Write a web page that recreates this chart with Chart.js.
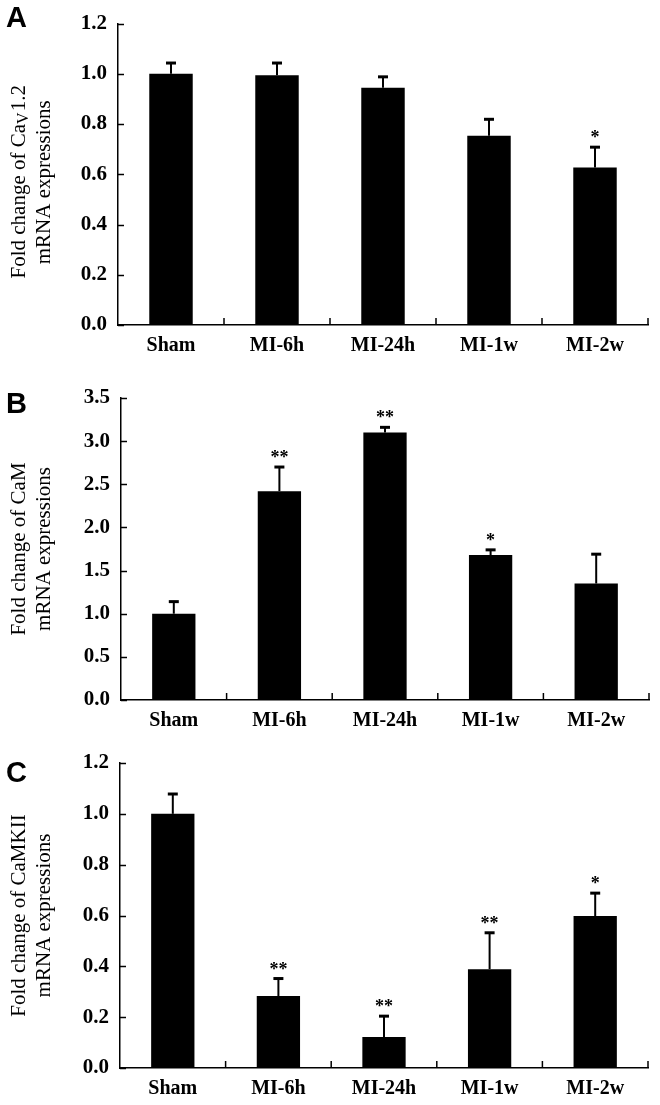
<!DOCTYPE html>
<html>
<head>
<meta charset="utf-8">
<script src="https://cdn.jsdelivr.net/npm/chart.js@4"></script>
<style>
  body { margin: 0; background: #fff; width: 660px; height: 1105px; position: relative; overflow: hidden; }
  canvas { position: absolute; left: 0; }
</style>
</head>
<body>
<canvas id="chartA" width="660" height="360" style="top:0px"></canvas>
<canvas id="chartB" width="660" height="365" style="top:365px"></canvas>
<canvas id="chartC" width="660" height="370" style="top:735px"></canvas>
<script>
// categories shared by all three panels
const categories = ['Sham', 'MI-6h', 'MI-24h', 'MI-1w', 'MI-2w'];

// A: Cav1.2
const cav12Mean = [1.00, 0.994, 0.945, 0.753, 0.627];
const cav12Err  = [0.043, 0.049, 0.043, 0.066, 0.081];
const cav12Sig  = ['', '', '', '', '*'];

// B: CaM
const camMean = [1.00, 2.42, 3.10, 1.68, 1.35];
const camErr  = [0.14, 0.28, 0.06, 0.06, 0.34];
const camSig  = ['', '**', '**', '*', ''];

// C: CaMKII
const camkiiMean = [1.00, 0.283, 0.122, 0.389, 0.598];
const camkiiErr  = [0.078, 0.069, 0.082, 0.143, 0.090];
const camkiiSig  = ['', '**', '**', '**', '*'];

// y axis ranges
const yMaxA = 1.2, yStepA = 0.2;
const yMaxB = 3.5, yStepB = 0.5;
const yMaxC = 1.2, yStepC = 0.2;

const SERIF = '"Liberation Serif", "Times New Roman", serif';

// error bars, stars, inward ticks, panel letter, y title
const panelDecor = {
    id: 'panelDecor',
    afterDatasetsDraw(chart, args, opts) {
        const ctx = chart.ctx;
        const ds = chart.data.datasets[0];
        const meta = chart.getDatasetMeta(0);
        const y = chart.scales.y;
        const area = chart.chartArea;

        ctx.save();
        ctx.strokeStyle = '#000';
        ctx.fillStyle = '#000';

        // error bars (upper only)
        meta.data.forEach((bar, i) => {
            const top = y.getPixelForValue(ds.data[i] + ds.errors[i]);
            ctx.lineWidth = 2;
            ctx.beginPath();
            ctx.moveTo(bar.x, bar.y);
            ctx.lineTo(bar.x, top);
            ctx.stroke();
            ctx.lineWidth = 3;
            ctx.beginPath();
            ctx.moveTo(bar.x - 5, top);
            ctx.lineTo(bar.x + 5, top);
            ctx.stroke();

            // significance stars
            if (ds.sig[i]) {
                ctx.font = 'bold 18px ' + SERIF;
                ctx.textAlign = 'center';
                ctx.textBaseline = 'alphabetic';
                ctx.fillText(ds.sig[i], bar.x, top - 4);
            }
        });

        // inward tick marks
        ctx.lineWidth = 1.5;
        y.ticks.forEach(t => {
            const py = Math.round(y.getPixelForValue(t.value)) + 0.5;
            ctx.beginPath();
            ctx.moveTo(area.left, py);
            ctx.lineTo(area.left + 6, py);
            ctx.stroke();
        });
        const n = categories.length;
        for (let k = 1; k <= n; k++) {
            const px = area.left + (area.right - area.left) * k / n;
            ctx.beginPath();
            ctx.moveTo(px, area.bottom);
            ctx.lineTo(px, area.bottom - 7);
            ctx.stroke();
        }

        // panel letter
        ctx.font = 'bold 29px "Liberation Sans", Arial, sans-serif';
        ctx.textAlign = 'left';
        ctx.textBaseline = 'alphabetic';
        ctx.fillText(opts.letter, 6, opts.letterY);

        // y title, two rotated lines
        const cy = (area.top + area.bottom) / 2 + (opts.titleShift || 0);
        const big = '21px ' + SERIF;
        const small = '16px ' + SERIF;
        ctx.textBaseline = 'middle';

        ctx.save();
        ctx.translate(19, cy);
        ctx.rotate(-Math.PI / 2);
        ctx.font = big;
        const w1 = ctx.measureText(opts.title1).width;
        let wSub = 0, wTail = 0;
        if (opts.sub) {
            ctx.font = small;
            wSub = ctx.measureText(opts.sub).width;
            ctx.font = big;
            wTail = ctx.measureText(opts.tail).width;
        }
        let sx = -(w1 + wSub + wTail) / 2;
        ctx.textAlign = 'left';
        ctx.fillText(opts.title1, sx, 0);
        if (opts.sub) {
            sx += w1;
            ctx.font = small;
            ctx.fillText(opts.sub, sx, 5);
            sx += wSub + 1;
            ctx.font = big;
            ctx.fillText(opts.tail, sx, 0);
        }
        ctx.restore();

        ctx.save();
        ctx.translate(44, cy);
        ctx.rotate(-Math.PI / 2);
        ctx.font = big;
        ctx.textAlign = 'center';
        ctx.fillText(opts.title2, 0, 0);
        ctx.restore();

        ctx.restore();
    }
};

function makePanel(id, cfg) {
    const canvas = document.getElementById(id);
    return new Chart(canvas, {
        type: 'bar',
        data: {
            labels: categories,
            datasets: [{
                data: cfg.mean,
                errors: cfg.err,
                sig: cfg.sig,
                backgroundColor: '#000',
                borderWidth: 0,
                barPercentage: 0.41,
                categoryPercentage: 1.0
            }]
        },
        options: {
            responsive: false,
            animation: false,
            devicePixelRatio: 1,
            layout: { padding: { top: cfg.top, right: canvas.width - cfg.right, left: 0, bottom: 0 } },
            plugins: {
                legend: { display: false },
                tooltip: { enabled: false },
                panelDecor: cfg.decor
            },
            scales: {
                x: {
                    grid: { display: false, drawTicks: false },
                    border: { display: true, color: '#000', width: 1.5 },
                    ticks: {
                        color: '#000',
                        font: { family: SERIF, size: 20, weight: 'bold' },
                        padding: 9,
                        maxRotation: 0,
                        autoSkip: false
                    },
                    afterFit: s => { s.height = canvas.height - cfg.bottom; }
                },
                y: {
                    min: 0,
                    max: cfg.max,
                    grid: { display: false, drawTicks: false },
                    border: { display: true, color: '#000', width: 1.5 },
                    ticks: {
                        stepSize: cfg.step,
                        color: '#000',
                        font: { family: SERIF, size: 21, weight: 'bold' },
                        padding: 11,
                        callback: v => Number(v).toFixed(1)
                    },
                    afterFit: s => { s.width = cfg.left; }
                }
            }
        },
        plugins: [panelDecor]
    });
}

makePanel('chartA', {
    mean: cav12Mean, err: cav12Err, sig: cav12Sig, max: yMaxA, step: yStepA,
    top: 17, bottom: 325, left: 118, right: 648,
    decor: { letter: 'A', letterY: 27, title1: 'Fold change of Ca', sub: 'V', tail: '1.2', title2: 'mRNA expressions', titleShift: 8 }
});

makePanel('chartB', {
    mean: camMean, err: camErr, sig: camSig, max: yMaxB, step: yStepB,
    top: 33, bottom: 335, left: 121, right: 649,
    decor: { letter: 'B', letterY: 48, title1: 'Fold change of CaM', title2: 'mRNA expressions' }
});

makePanel('chartC', {
    mean: camkiiMean, err: camkiiErr, sig: camkiiSig, max: yMaxC, step: yStepC,
    top: 28, bottom: 333, left: 120, right: 648,
    decor: { letter: 'C', letterY: 47, title1: 'Fold change of CaMKII', title2: 'mRNA expressions' }
});
</script>
</body>
</html>
